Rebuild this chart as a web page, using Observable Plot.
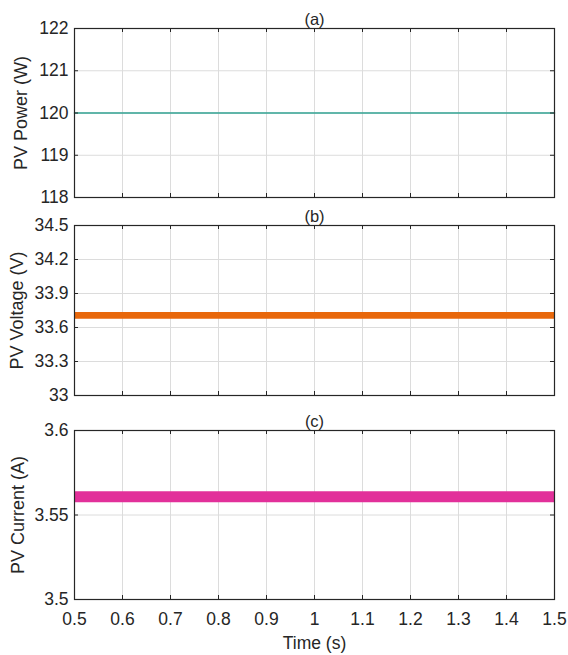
<!DOCTYPE html>
<html>
<head>
<meta charset="utf-8">
<script src="https://cdn.jsdelivr.net/npm/d3@7"></script>
<script src="https://cdn.jsdelivr.net/npm/@observablehq/plot@0.6"></script>
<style>
  html, body { margin: 0; padding: 0; background: #fff; }
  #chart svg { display: block; overflow: visible; }
</style>
</head>
<body>
<div id="chart"></div>
<script>
// ---- data ----
const time = [0.5, 1.5];
const powerValues = [120, 120];
const voltageLow = [33.673, 33.673];
const voltageHigh = [33.733, 33.733];
const currentLow = [3.5573, 3.5573];
const currentHigh = [3.5638, 3.5638];

const xTicks = [0.5, 0.6, 0.7, 0.8, 0.9, 1.0, 1.1, 1.2, 1.3, 1.4, 1.5];
const powerTicks = [118, 119, 120, 121, 122];
const voltageTicks = [33, 33.3, 33.6, 33.9, 34.2, 34.5];
const currentTicks = [3.5, 3.55, 3.6];

const panelTitles = ["(a)", "(b)", "(c)"];
const yLabels = ["PV Power (W)", "PV Voltage (V)", "PV Current (A)"];
const xLabel = "Time (s)";

// ---- drawing ----
const W = 568, ML = 74, MR = 14;
const frameW = W - ML - MR;
const FONT = "Liberation Sans, Arial, Helvetica, sans-serif";
const ink = "#262626";
const fmtX = d => (Math.abs(d - 1) < 1e-9 ? "1" : d3.format(".1f")(d));

function panel({height, marginTop, marginBottom, domain, ticks, fmt, title, ylabel, labelDx, series, showX}) {
  const frameH = height - marginTop - marginBottom;
  const rows = time.map((t, i) => ({t, ...series.rows(i)}));
  return Plot.plot({
    width: W, height, marginLeft: ML, marginRight: MR, marginTop, marginBottom,
    style: {fontFamily: FONT, fontSize: "17px", color: ink, background: "#fff", overflow: "visible"},
    x: {domain: [0.5, 1.5]},
    y: {domain},
    marks: [
      Plot.gridX(xTicks, {stroke: "#dcdcdc", strokeOpacity: 1, strokeWidth: 1}),
      Plot.gridY(ticks, {stroke: "#dcdcdc", strokeOpacity: 1, strokeWidth: 1}),
      series.mark(rows),
      // inward ticks (left, right, bottom, top)
      Plot.tickY(ticks, {y: d => d, insetRight: frameW - 4, stroke: ink, strokeWidth: 1}),
      Plot.tickY(ticks, {y: d => d, insetLeft: frameW - 4, stroke: ink, strokeWidth: 1}),
      Plot.tickX(xTicks, {x: d => d, insetTop: frameH - 4, stroke: ink, strokeWidth: 1}),
      Plot.tickX(xTicks, {x: d => d, insetBottom: frameH - 4, stroke: ink, strokeWidth: 1}),
      Plot.frame({stroke: ink, strokeWidth: 1.2}),
      Plot.axisY(ticks, {anchor: "left", tickSize: 0, tickPadding: 6, label: null, tickFormat: fmt, fill: ink, fontSize: 17.5}),
      showX
        ? Plot.axisX(xTicks, {anchor: "bottom", tickSize: 0, tickPadding: 13, label: null, tickFormat: fmtX, fill: ink, fontSize: 17.5})
        : Plot.axisX(xTicks, {anchor: "bottom", tickSize: 0, label: null, tickFormat: () => ""}),
      Plot.text([title], {frameAnchor: "top", lineAnchor: "middle", textAnchor: "middle", dy: -9, text: d => d, fill: ink, fontSize: 16.5}),
      Plot.text([ylabel], {frameAnchor: "left", lineAnchor: "middle", textAnchor: "middle", dx: labelDx, rotate: -90, text: d => d, fill: ink, fontSize: 18}),
      showX ? Plot.text([xLabel], {frameAnchor: "bottom", lineAnchor: "middle", textAnchor: "middle", dy: 44, text: d => d, fill: ink, fontSize: 17.5}) : null
    ]
  });
}

const chart = document.getElementById("chart");

chart.append(panel({
  height: 205, marginTop: 28, marginBottom: 8,
  domain: [118, 122], ticks: powerTicks, fmt: d => String(d),
  title: panelTitles[0], ylabel: yLabels[0], labelDx: -53, showX: false,
  series: {
    rows: i => ({v: powerValues[i]}),
    mark: rows => Plot.line(rows, {x: "t", y: "v", stroke: "#32a393", strokeWidth: 1.6})
  }
}));

chart.append(panel({
  height: 200, marginTop: 20, marginBottom: 10,
  domain: [33, 34.5], ticks: voltageTicks, fmt: d => (Number.isInteger(d) ? String(d) : d3.format(".1f")(d)),
  title: panelTitles[1], ylabel: yLabels[1], labelDx: -57, showX: false,
  series: {
    rows: i => ({lo: voltageLow[i], hi: voltageHigh[i]}),
    mark: rows => Plot.areaY(rows, {x: "t", y1: "lo", y2: "hi", fill: "#e8680c"})
  }
}));

chart.append(panel({
  height: 250, marginTop: 25, marginBottom: 56,
  domain: [3.5, 3.6], ticks: currentTicks, fmt: d => String(+d.toFixed(2)),
  title: panelTitles[2], ylabel: yLabels[2], labelDx: -56, showX: true,
  series: {
    rows: i => ({lo: currentLow[i], hi: currentHigh[i]}),
    mark: rows => Plot.areaY(rows, {x: "t", y1: "lo", y2: "hi", fill: "#e2309a"})
  }
}));
</script>
</body>
</html>
